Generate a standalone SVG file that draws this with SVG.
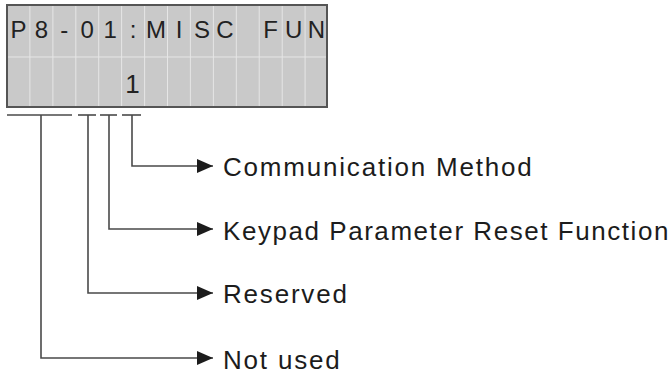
<svg xmlns="http://www.w3.org/2000/svg" width="671" height="373" viewBox="0 0 671 373">
<style>
.lcd{font-family:"Liberation Sans",Arial,sans-serif;font-size:24px;fill:#222;text-anchor:middle}
.lbl{font-family:"Liberation Sans",Arial,sans-serif;font-size:26px;fill:#1c1c1c;letter-spacing:1.8px}
.grid{stroke:#e6e6e6;stroke-width:1}
.wire{stroke:#4a4a4a;stroke-width:1.6;fill:none}
</style>
<defs>
<marker id="arr" markerWidth="16" markerHeight="16" viewBox="0 0 16 16" refX="16" refY="8" markerUnits="userSpaceOnUse" orient="auto">
<path d="M0,1 L16,8 L0,15 Z" fill="#1c1c1c"/>
</marker>
</defs>
<rect width="671" height="373" fill="#fff"/>
<g id="lcd">
<rect x="7" y="5" width="320" height="102" fill="#c9c9c9"/>
<g class="grid">
<line x1="29.9" y1="6" x2="29.9" y2="106"/>
<line x1="52.9" y1="6" x2="52.9" y2="106"/>
<line x1="75.8" y1="6" x2="75.8" y2="106"/>
<line x1="98.7" y1="6" x2="98.7" y2="106"/>
<line x1="121.6" y1="6" x2="121.6" y2="106"/>
<line x1="144.6" y1="6" x2="144.6" y2="106"/>
<line x1="167.5" y1="6" x2="167.5" y2="106"/>
<line x1="190.4" y1="6" x2="190.4" y2="106"/>
<line x1="213.4" y1="6" x2="213.4" y2="106"/>
<line x1="236.3" y1="6" x2="236.3" y2="106"/>
<line x1="259.2" y1="6" x2="259.2" y2="106"/>
<line x1="282.2" y1="6" x2="282.2" y2="106"/>
<line x1="305.1" y1="6" x2="305.1" y2="106"/>
<line x1="8" y1="57" x2="326" y2="57"/>
</g>
<rect x="7" y="5" width="320" height="102" fill="none" stroke="#555" stroke-width="2"/>
<text class="lcd" y="38"><tspan x="18.5">P</tspan><tspan x="41.4">8</tspan><tspan x="64.3">-</tspan><tspan x="87.2">0</tspan><tspan x="110.2">1</tspan><tspan x="133.1">:</tspan><tspan x="156">M</tspan><tspan x="179">I</tspan><tspan x="201.9">S</tspan><tspan x="224.8">C</tspan><tspan x="270.7">F</tspan><tspan x="293.6">U</tspan><tspan x="316.5">N</tspan></text>
<text class="lcd" x="132.5" y="93" style="font-size:26px">1</text>
</g>
<g id="connectors">
<line class="wire" x1="7" y1="115" x2="72" y2="115"/>
<line class="wire" x1="78" y1="115" x2="96" y2="115"/>
<line class="wire" x1="100" y1="115" x2="117" y2="115"/>
<line class="wire" x1="122" y1="115" x2="141" y2="115"/>
<polyline class="wire" points="132,115 132,166 213,166" marker-end="url(#arr)"/>
<polyline class="wire" points="109,115 109,229 213,229" marker-end="url(#arr)"/>
<polyline class="wire" points="88,115 88,293 213,293" marker-end="url(#arr)"/>
<polyline class="wire" points="41,115 41,358 213,358" marker-end="url(#arr)"/>
</g>
<g id="label-communication"><text class="lbl" x="223" y="176">Communication Method</text></g>
<g id="label-keypad"><text class="lbl" x="223" y="239.5" style="letter-spacing:1.55px">Keypad Parameter Reset Function</text></g>
<g id="label-reserved"><text class="lbl" x="223" y="303">Reserved</text></g>
<g id="label-notused"><text class="lbl" x="223" y="368.5">Not used</text></g>
</svg>
